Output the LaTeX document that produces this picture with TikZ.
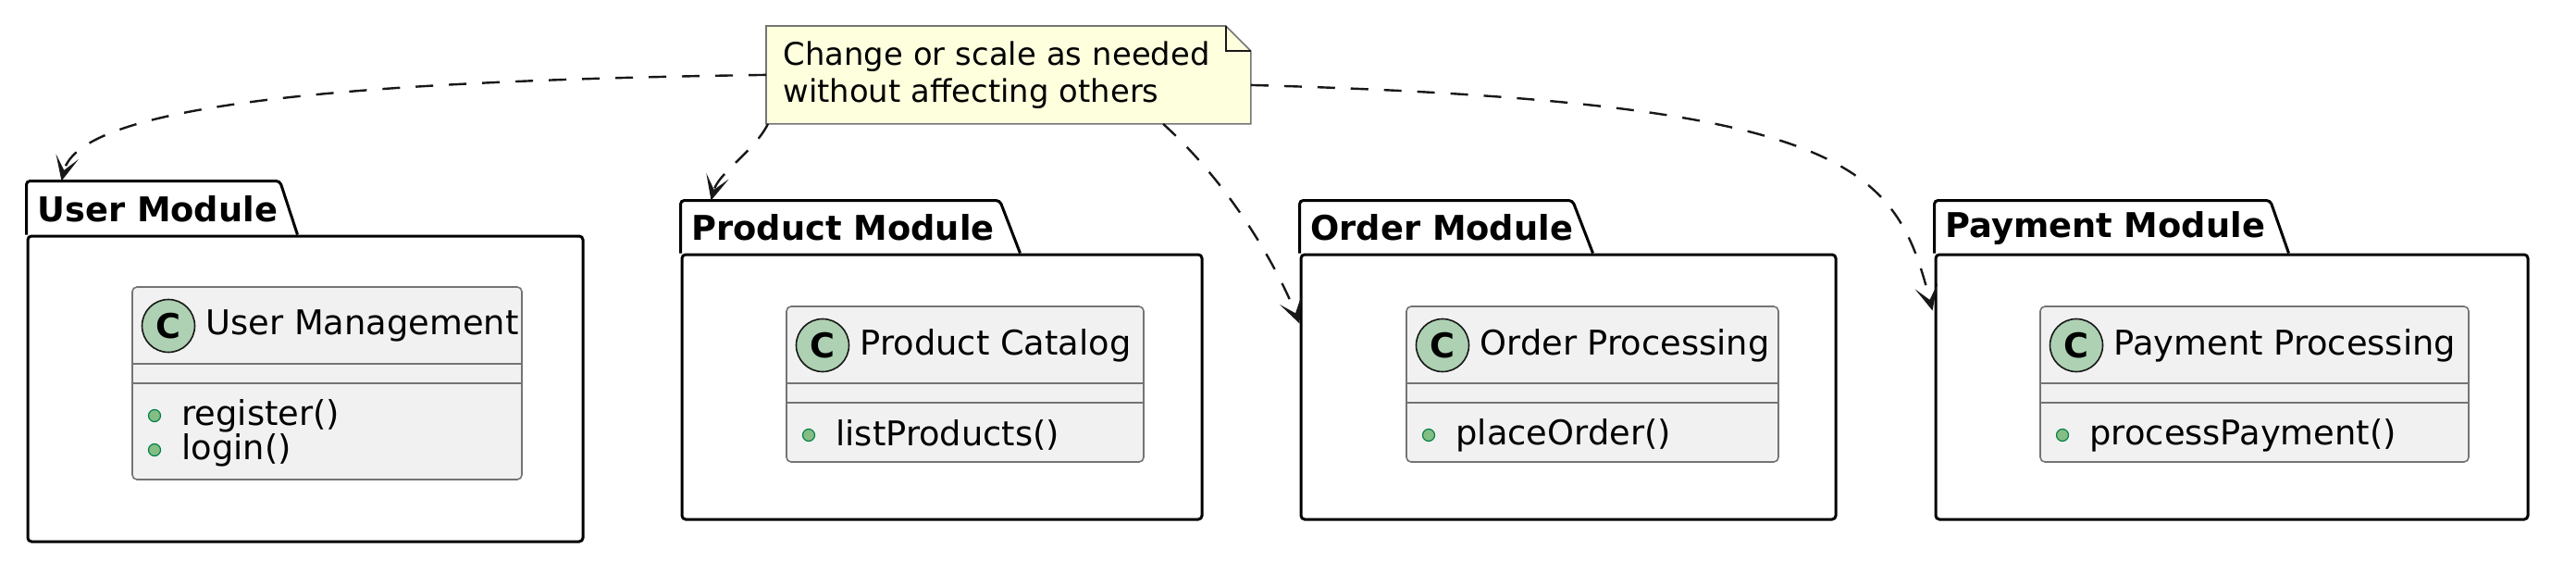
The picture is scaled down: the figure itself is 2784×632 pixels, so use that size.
\documentclass[tikz,border=0pt]{standalone}
\usepackage{fontspec}
\setmainfont{DejaVu Sans}
\usepackage{tikz}
\usetikzlibrary{arrows.meta,positioning,calc,fit,backgrounds}
\definecolor{notefill}{HTML}{FEFFDD}
\definecolor{classfill}{HTML}{F1F1F1}
\definecolor{iconfill}{HTML}{ADD1B2}
\definecolor{pubfill}{HTML}{84BE84}
\definecolor{publine}{HTML}{038048}
\definecolor{umlline}{HTML}{181818}

\begin{document}
\begin{tikzpicture}[x=0.5pt,y=-0.5pt,>={Stealth[length=13.5pt,width=12.5pt,inset=7.5pt]},
		font=\fontsize{18.4}{22}\selectfont,
		pkg node/.style={draw,line width=1.5pt,rounded corners=2pt,inner sep=0pt},
		pkg line/.style={draw,line width=1.5pt,rounded corners=2pt},
		tab node/.style={anchor=west,inner sep=0pt,font=\fontsize{18.4}{22}\selectfont\bfseries},
		class node/.style={draw=umlline!60,fill=classfill,line width=0.8pt,rounded corners=2.5pt,inner sep=0pt},
		class line/.style={draw=umlline!60,line width=0.8pt},
		icon node/.style={circle,draw=umlline,fill=iconfill,line width=0.8pt,minimum size=28.5pt,inner sep=0pt,font=\fontsize{18.4}{22}\selectfont\bfseries},
		name node/.style={inner sep=0pt},
		pub node/.style={circle,draw=publine,fill=pubfill,line width=0.6pt,minimum size=6.5pt,inner sep=0pt},
		method node/.style={inner sep=0pt},
		note node/.style={anchor=north west,minimum width=261.5pt,minimum height=52.5pt,text width=243.5pt,
			inner xsep=9pt,inner ysep=0pt,align=left,font=\fontsize{16.9}{20}\selectfont},
		dep/.style={->,dash pattern=on 9.5pt off 8.5pt,line width=1.2pt,draw=umlline}]
		
		\useasboundingbox (0,0) rectangle (2784,632);
		
		% packages
		\node[pkg node,fit={(30,255) (630,585)}] (user) {};
		\draw[pkg line] (user.north west) -- ++(0,-58) -- ++(274,0) -- ++(19,58);
		\node[tab node] (usertab) at (40,226) {User Module};
		
		\node[pkg node,fit={(737,275) (1299,561)}] (product) {};
		\draw[pkg line] (product.north west) -- ++(0,-57) -- ++(345,0) -- ++(22,57);
		\node[tab node] (producttab) at (747,246) {Product Module};
		
		\node[pkg node,fit={(1406,275) (1984,561)}] (order) {};
		\draw[pkg line] (order.north west) -- ++(0,-57) -- ++(295,0) -- ++(22,57);
		\node[tab node] (ordertab) at (1416,246) {Order Module};
		
		\node[pkg node,fit={(2092,275) (2732,561)}] (payment) {};
		\draw[pkg line] (payment.north west) -- ++(0,-57) -- ++(363,0) -- ++(20,57);
		\node[tab node] (paymenttab) at (2102,246) {Payment Module};
		
		% classes
		\node[class node,fit={(143,310) (564,518)}] (um) {};
		\draw[class line] ([yshift=-42pt]um.north west) -- ([yshift=-42pt]um.north east)
		([yshift=-52.5pt]um.north west) -- ([yshift=-52.5pt]um.north east);
		\node[icon node] (umC) at (182,352) {C};
		\node[name node,right=5.5pt of umC] (umname) {User Management};
		\node[pub node] (umreg) at (167,449) {};
		\node[method node,right=11pt of umreg] (umregtext) {register()};
		\node[pub node] (umlog) at (167,486) {};
		\node[method node,right=11pt of umlog] (umlogtext) {login()};
		
		\node[class node,fit={(850,331) (1236,499)}] (pc) {};
		\draw[class line] ([yshift=-42pt]pc.north west) -- ([yshift=-42pt]pc.north east)
		([yshift=-52.5pt]pc.north west) -- ([yshift=-52.5pt]pc.north east);
		\node[icon node] (pcC) at (889,373) {C};
		\node[name node,right=5.5pt of pcC] (pcname) {Product Catalog};
		\node[pub node] (pclist) at (874,470) {};
		\node[method node,right=11pt of pclist] (pclisttext) {listProducts()};
		
		\node[class node,fit={(1520,331) (1922,499)}] (op) {};
		\draw[class line] ([yshift=-42pt]op.north west) -- ([yshift=-42pt]op.north east)
		([yshift=-52.5pt]op.north west) -- ([yshift=-52.5pt]op.north east);
		\node[icon node] (opC) at (1559,373) {C};
		\node[name node,right=5.5pt of opC] (opname) {Order Processing};
		\node[pub node] (opplace) at (1544,470) {};
		\node[method node,right=11pt of opplace] (opplacetext) {placeOrder()};
		
		\node[class node,fit={(2205,331) (2668,499)}] (pp) {};
		\draw[class line] ([yshift=-42pt]pp.north west) -- ([yshift=-42pt]pp.north east)
		([yshift=-52.5pt]pp.north west) -- ([yshift=-52.5pt]pp.north east);
		\node[icon node] (ppC) at (2244,373) {C};
		\node[name node,right=5.5pt of ppC] (ppname) {Payment Processing};
		\node[pub node] (ppproc) at (2229,470) {};
		\node[method node,right=11pt of ppproc] (ppproctext) {processPayment()};
		
		% note
		\node[note node] (note) at (828,28) {Change or scale as needed\\without affecting others};
		\begin{scope}[on background layer]
			\filldraw[fill=notefill,draw=umlline!60,line width=0.8pt] (note.north west) -- ([xshift=-13.5pt]note.north east)
			-- ([yshift=-13.5pt]note.north east) -- (note.south east) -- (note.south west) -- cycle;
			\draw[umlline,line width=0.8pt] ([xshift=-13.5pt]note.north east) |- ([yshift=-13.5pt]note.north east);
		\end{scope}
		
		\draw[dep] (note.west) .. controls +(-430,6) and +(20,-85) .. ($(user.north west)+(38,-58)$);
		\draw[dep] ($(note.south west)+(2,0)$) .. controls +(-15,30) and +(8,-30) .. ($(product.north west)+(33,-57)$);
		\draw[dep] ($(note.south west)+(429,0)$) .. controls +(73,66) and +(-24,-61) .. ($(order.north west)+(0,76)$);
		\draw[dep] ($(note.east)+(0,11)$) .. controls +(649,18) and +(-40,-157) .. ($(payment.north west)+(-2,62)$);
		
	\end{tikzpicture}
\end{document}
